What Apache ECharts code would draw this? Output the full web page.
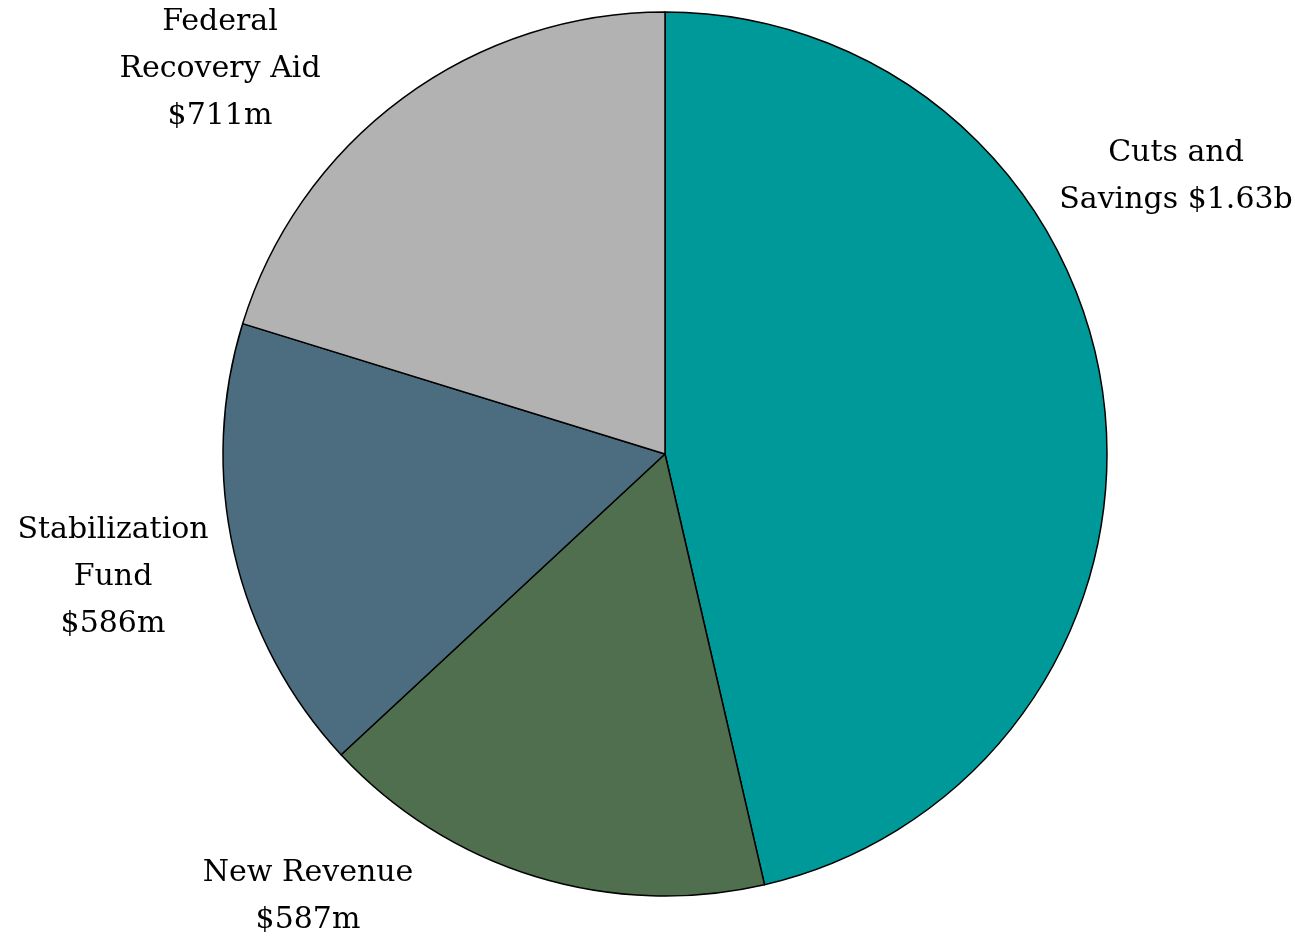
<!DOCTYPE html>
<html>
<head>
<meta charset="utf-8">
<script src="https://cdn.jsdelivr.net/npm/echarts@6/dist/echarts.min.js"></script>
<style>
html,body{margin:0;padding:0;background:#fff;}
#chart{width:1295px;height:937px;}
</style>
</head>
<body>
<div id="chart"></div>
<script>
const categories = ["Cuts and\nSavings", "New Revenue", "Stabilization\nFund", "Federal\nRecovery Aid"];
const values = [1630, 587, 586, 711];
const valueLabels = ["$1.63b", "$587m", "$586m", "$711m"];
const labelTexts = ["Cuts and\nSavings $1.63b", "New Revenue\n$587m", "Stabilization\nFund\n$586m", "Federal\nRecovery Aid\n$711m"];

const colors = ["#009999", "#4f6f4f", "#4c6c7f", "#b2b2b2"];
const labelPos = [[1176, 177], [308, 897], [113, 577], [220, 69]];

const chart = echarts.init(document.getElementById('chart'));
chart.setOption({
  animation: false,
  backgroundColor: '#ffffff',
  series: [{
    type: 'pie',
    center: [665, 454],
    radius: 442,
    startAngle: 90,
    clockwise: true,
    avoidLabelOverlap: false,
    data: categories.map((c, i) => ({
      name: c,
      value: values[i],
      itemStyle: { color: colors[i] }
    })),
    itemStyle: { borderColor: '#000', borderWidth: 1.5 },
    label: {
      show: true,
      position: 'outside',
      formatter: p => labelTexts[p.dataIndex],
      fontFamily: 'DejaVu Serif',
      fontSize: 30,
      lineHeight: 47,
      color: '#000',
      align: 'center'
    },
    labelLine: { show: false },
    labelLayout: p => ({
      x: labelPos[p.dataIndex][0],
      y: labelPos[p.dataIndex][1],
      align: 'center',
      verticalAlign: 'middle'
    }),
    emphasis: { disabled: true }
  }]
});
</script>
</body>
</html>
